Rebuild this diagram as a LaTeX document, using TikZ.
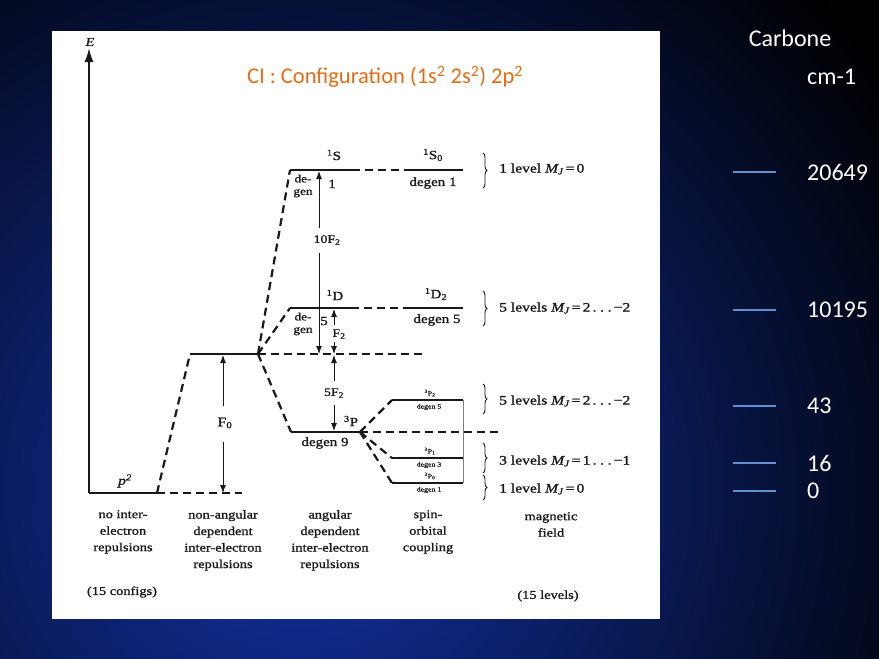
\documentclass[tikz,border=0pt]{standalone}
\usepackage{fontspec}
\setmainfont{Liberation Serif}[FakeStretch=1.2,FakeBold=1.2]
\newfontfamily\calfont{Carlito}
\usetikzlibrary{arrows.meta,decorations.pathreplacing}
\definecolor{orangetitle}{RGB}{232,108,20}
\definecolor{tickblue}{RGB}{95,145,210}
\definecolor{bgblue}{RGB}{18,50,165}
\definecolor{ink}{RGB}{25,25,25}
\begin{document}
\begin{tikzpicture}[x=1pt,y=-1pt,
  lev/.style={line width=2.2pt, draw=ink},
  dlev/.style={line width=2.2pt, draw=ink, dash pattern=on 8pt off 5pt},
  axis/.style={line width=1.8pt, draw=ink, -{Latex[length=14pt,width=9pt]}},
  gap/.style={line width=0.9pt, draw=ink, -{Latex[length=8pt,width=6pt]}},
  lab/.style={font=\fontsize{11.5}{12}\selectfont, inner sep=0pt, text=ink},
  term/.style={font=\fontsize{12.5}{13}\selectfont, inner sep=0pt, text=ink},
  tiny/.style={font=\fontsize{6.5}{6.5}\selectfont, inner sep=0pt, text=ink},
  degen/.style={font=\fontsize{11}{12.5}\selectfont, inner sep=0pt, align=center, text=ink},
  lvl/.style={font=\fontsize{13}{13}\selectfont, inner sep=0pt, anchor=west, text=ink},
  bot/.style={font=\fontsize{12}{16.5}\selectfont, align=center, inner sep=0pt, anchor=north, text=ink},
  brc/.style={decorate, decoration={brace, amplitude=4pt}, line width=0.9pt, draw=ink},
  wtxt/.style={text=white, font=\calfont\fontsize{24}{24}\selectfont, inner sep=0pt},
  tickln/.style={draw=tickblue, line width=1.8pt}
]
\useasboundingbox (0,0) rectangle (879,659);
% background
\begin{scope}
  \clip (0,0) rectangle (879,659);
  \fill[black] (0,0) rectangle (879,659);
  \shade[inner color=bgblue, outer color=black] (300,490) circle (720);
\end{scope}
\fill[white] (52,31) rectangle (660,619);

% coordinates of the levels
\coordinate (Etop) at (89,48);
\coordinate (p2L) at (89,493);
\coordinate (p2R) at (157,493);
\coordinate (p2D) at (242,493);
\coordinate (F0L) at (190,354);
\coordinate (F0R) at (258,354);
\coordinate (F0D) at (422,354);
\coordinate (SL) at (290,170);
\coordinate (SR) at (352,170);
\coordinate (S0L) at (405,170);
\coordinate (S0R) at (463,170);
\coordinate (DL) at (290,308);
\coordinate (DR) at (351,308);
\coordinate (D2L) at (410,308);
\coordinate (D2R) at (463,308);
\coordinate (PL) at (291,432);
\coordinate (PR) at (360,432);
\coordinate (PD) at (502,432);
\coordinate (P2L) at (392,400);
\coordinate (P2R) at (463,400);
\coordinate (P1L) at (392,458);
\coordinate (P1R) at (463,458);
\coordinate (P0L) at (392,483);
\coordinate (P0R) at (463,483);

% axis
\draw[axis] (p2L) -- (Etop);
\node[font=\fontsize{12}{12}\selectfont\itshape, inner sep=0pt, text=ink] (Elab) at (90,42) {E};

% p2 and F0 levels
\draw[lev] (p2L) -- (p2R);
\draw[dlev] (p2R) -- (p2D);
\draw[dlev] (p2R) -- (F0L);
\draw[lev] (F0L) -- (F0R);
\draw[dlev] (F0R) -- (F0D);
\node[font=\fontsize{13}{13}\selectfont\itshape, inner sep=0pt, text=ink] (p2lab) at (125,481) {p\textsuperscript{2}};

% term levels
\draw[dlev] (F0R) -- (SL);
\draw[dlev] (F0R) -- (DL);
\draw[dlev] (F0R) -- (PL);
\draw[lev] (SL) -- (SR);
\draw[dlev] (SR) -- (S0L);
\draw[lev] (S0L) -- (S0R);
\draw[lev] (DL) -- (DR);
\draw[dlev] (DR) -- (D2L);
\draw[lev] (D2L) -- (D2R);
\draw[lev] (PL) -- (PR);
\draw[dlev] (PR) -- (PD);
\draw[dlev] (PR) -- (P2L);
\draw[dlev] (PR) -- (P1L);
\draw[dlev] (PR) -- (P0L);
\draw[lev] (P2L) -- (P2R);
\draw[lev] (P1L) -- (P1R);
\draw[lev] (P0L) -- (P0R);
\draw[line width=0.5pt, gray] (P2R) -- (P0R);

% F0 arrow
\coordinate (f0a) at (223,406);
\coordinate (f0b) at (223,355);
\coordinate (f0c) at (223,442);
\coordinate (f0d) at (223,493);
\node[lab, font=\fontsize{13}{13}\selectfont] (F0lab) at (225,423) {F\textsubscript{0}};
\draw[gap] (f0a) -- (f0b);
\draw[gap] (f0c) -- (f0d);

% 10F2 arrow
\coordinate (a10a) at (319,228);
\coordinate (a10b) at (319,171);
\coordinate (a10c) at (319,253);
\coordinate (a10d) at (319,354);
\node[lab] (t10) at (327,240) {10F\textsubscript{2}};
\draw[gap] (a10a) -- (a10b);
\draw[gap] (a10c) -- (a10d);

% F2 arrow
\coordinate (f2a) at (334,325);
\coordinate (f2b) at (334,309);
\coordinate (f2c) at (334,342);
\coordinate (f2d) at (334,354);
\node[lab] (tF2) at (339,334) {F\textsubscript{2}};
\draw[gap] (f2a) -- (f2b);
\draw[gap] (f2c) -- (f2d);

% 5F2 arrow
\coordinate (f5a) at (334,381);
\coordinate (f5b) at (334,355);
\coordinate (f5c) at (334,405);
\coordinate (f5d) at (334,431);
\node[lab] (t5F2) at (334,393) {5F\textsubscript{2}};
\draw[gap] (f5a) -- (f5b);
\draw[gap] (f5c) -- (f5d);

% term labels
\node[term] (S1) at (334,155) {\textsuperscript{1}S};
\node[term] (S10) at (433,155) {\textsuperscript{1}S\textsubscript{0}};
\node[term] (dS0) at (433,183) {degen 1};
\node[degen] (dgS) at (303,186) {de-\\gen};
\node[term] (n1) at (332,184) {1};
\node[term] (D1) at (335,295) {\textsuperscript{1}D};
\node[term] (D12) at (436,294) {\textsuperscript{1}D\textsubscript{2}};
\node[term] (dD2) at (437,320) {degen 5};
\node[degen] (dgD) at (303,324) {de-\\gen};
\node[term] (n5) at (324,321) {5};
\node[term] (P3) at (351,421) {\textsuperscript{3}P};
\node[term] (dP) at (325,443) {degen 9};
\node[tiny] (P32) at (430,393) {\textsuperscript{3}P\textsubscript{2}};
\node[tiny] (dP2) at (429,407) {degen 5};
\node[tiny] (P31) at (430,451) {\textsuperscript{3}P\textsubscript{1}};
\node[tiny] (dP1) at (429,465) {degen 3};
\node[tiny] (P30) at (430,476) {\textsuperscript{3}P\textsubscript{0}};
\node[tiny] (dP0) at (429,490) {degen 1};

% braces and level counts
\draw[brc] (483,153) -- (483,188);
\node[lvl] (m1) at (499,169) {1 level \textit{M\textsubscript{J}}\,=\,0};
\draw[brc] (483,291) -- (483,326);
\node[lvl] (m2) at (499,308) {5 levels \textit{M\textsubscript{J}}\,=\,2\,.\;.\;.\,−2};
\draw[brc] (483,384) -- (483,414);
\node[lvl] (m3) at (499,401) {5 levels \textit{M\textsubscript{J}}\,=\,2\,.\;.\;.\,−2};
\draw[brc] (483,443) -- (483,473);
\node[lvl] (m4) at (499,461) {3 levels \textit{M\textsubscript{J}}\,=\,1\,.\;.\;.\,−1};
\draw[brc] (483,475) -- (483,500);
\node[lvl] (m5) at (499,489) {1 level \textit{M\textsubscript{J}}\,=\,0};

% bottom captions
\node[bot] (c1) at (123,510) {no inter-\\electron\\repulsions};
\node[bot] (c2) at (223,510) {non-angular\\dependent\\inter-electron\\repulsions};
\node[bot] (c3) at (330,510) {angular\\dependent\\inter-electron\\repulsions};
\node[bot] (c4) at (428,510) {spin-\\orbital\\coupling};
\node[bot] (c5) at (551,512) {magnetic\\field};
\node[bot, anchor=center] (c6) at (122,592) {(15 configs)};
\node[bot, anchor=center] (c7) at (548,596) {(15 levels)};

% title
\node[text=orangetitle, font=\calfont\fontsize{22.5}{22.5}\selectfont, inner sep=0pt] (title) at (385,77)
  {CI : Configuration (1s\textsuperscript{2} 2s\textsuperscript{2}) 2p\textsuperscript{2}};

% right column
\node[wtxt] (carb) at (790,38) {Carbone};
\node[wtxt, anchor=west] (cm) at (807,77) {cm-1};
\coordinate (t1a) at (733,172); \coordinate (t1b) at (776,172);
\coordinate (t2a) at (733,310); \coordinate (t2b) at (776,310);
\coordinate (t3a) at (733,406); \coordinate (t3b) at (776,406);
\coordinate (t4a) at (733,463); \coordinate (t4b) at (776,463);
\coordinate (t5a) at (733,491); \coordinate (t5b) at (776,491);
\draw[tickln] (t1a) -- (t1b);
\draw[tickln] (t2a) -- (t2b);
\draw[tickln] (t3a) -- (t3b);
\draw[tickln] (t4a) -- (t4b);
\draw[tickln] (t5a) -- (t5b);
\node[wtxt, anchor=west] (v1) at (807,172) {20649};
\node[wtxt, anchor=west] (v2) at (807,310) {10195};
\node[wtxt, anchor=west] (v3) at (807,406) {43};
\node[wtxt, anchor=west] (v4) at (807,463) {16};
\node[wtxt, anchor=west] (v5) at (807,491) {0};
\end{tikzpicture}
\end{document}
